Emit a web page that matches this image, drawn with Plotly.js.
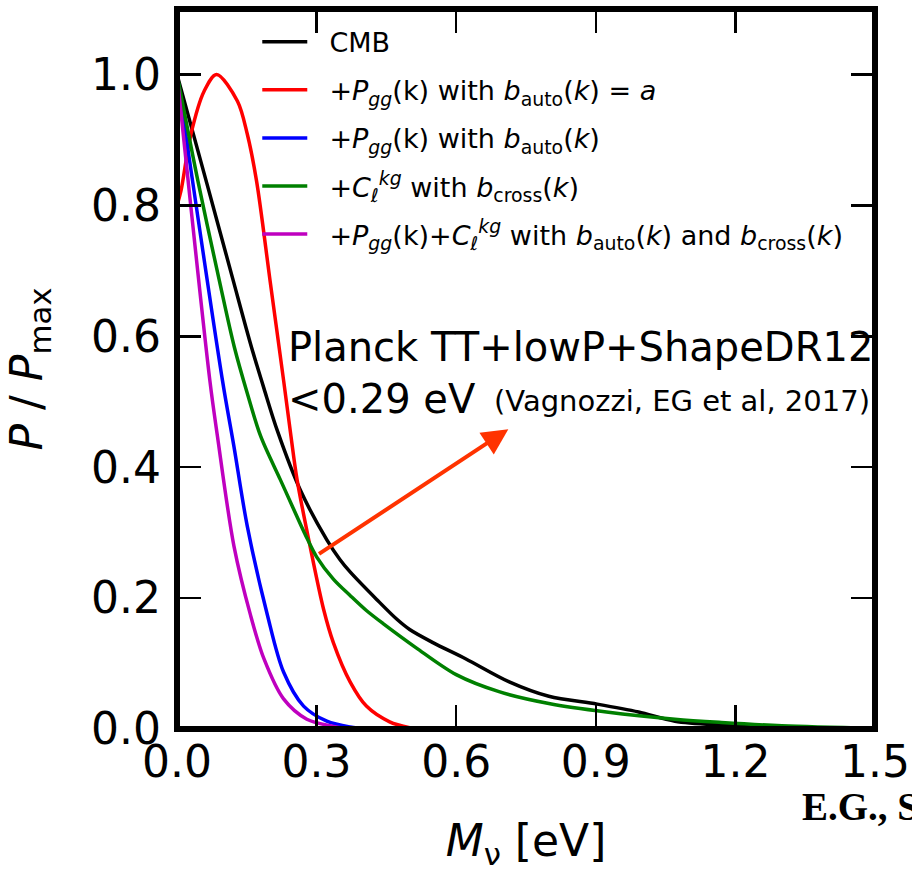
<!DOCTYPE html>
<html>
<head>
<meta charset="utf-8">
<script src="https://cdn.plot.ly/plotly-3.0.1.min.js"></script>
<style>html,body{margin:0;padding:0;background:#fff;}#chart{width:912px;height:872px;}</style>
</head>
<body>
<div id="chart"></div>
<script>
// ---- data ----
const seriesNames = [
  "CMB",
  "+<i>P</i><sub><i>gg</i></sub>(k) with <i>b</i><sub>auto</sub>(<i>k</i>) = <i>a</i>",
  "+<i>P</i><sub><i>gg</i></sub>(k) with <i>b</i><sub>auto</sub>(<i>k</i>)",
  "+<i>C</i><sub><i>ℓ</i></sub><sup><i>kg</i></sup> with <i>b</i><sub>cross</sub>(<i>k</i>)",
  "+<i>P</i><sub><i>gg</i></sub>(k)+<i>C</i><sub><i>ℓ</i></sub><sup><i>kg</i></sup> with <i>b</i><sub>auto</sub>(<i>k</i>) and <i>b</i><sub>cross</sub>(<i>k</i>)"
];
const seriesColors = ["#000000", "#ff0000", "#0000ff", "#008000", "#bf00bf"];

const cmbMnu = [0, 0.064, 0.119, 0.159, 0.187, 0.216, 0.265, 0.322, 0.350, 0.372, 0.429, 0.472, 0.50, 0.55, 0.621, 0.714, 0.799, 0.903, 0.992, 1.07, 1.17, 1.30, 1.50];
const cmbP   = [1.0, 0.834, 0.690, 0.586, 0.520, 0.455, 0.365, 0.289, 0.259, 0.240, 0.198, 0.168, 0.152, 0.132, 0.107, 0.072, 0.050, 0.038, 0.026, 0.012, 0.006, 0.002, 0.0];

const pggAMnu = [0, 0.0085, 0.03, 0.058, 0.085, 0.13, 0.151, 0.171, 0.200, 0.229, 0.245, 0.258, 0.286, 0.315, 0.336, 0.372, 0.407, 0.457, 0.50, 0.52];
const pggAP   = [0.8, 0.822, 0.909, 0.974, 1.0, 0.959, 0.909, 0.837, 0.685, 0.533, 0.447, 0.381, 0.279, 0.183, 0.132, 0.072, 0.035, 0.011, 0.002, 0.0];

const pggMnu = [0, 0.0976, 0.1225, 0.151, 0.194, 0.229, 0.272, 0.322, 0.372, 0.41];
const pggP   = [1.0, 0.533, 0.431, 0.310, 0.175, 0.087, 0.035, 0.012, 0.003, 0.0];

const clMnu = [0, 0.045, 0.091, 0.123, 0.151, 0.180, 0.222, 0.250, 0.275, 0.300, 0.336, 0.372, 0.407, 0.443, 0.514, 0.600, 0.692, 0.799, 0.923, 1.07, 1.17, 1.30, 1.50];
const clP   = [1.0, 0.837, 0.685, 0.584, 0.513, 0.447, 0.381, 0.337, 0.298, 0.263, 0.229, 0.204, 0.181, 0.161, 0.124, 0.083, 0.057, 0.039, 0.026, 0.015, 0.010, 0.005, 0.001];

const bothMnu = [0, 0.0705, 0.087, 0.1225, 0.158, 0.187, 0.229, 0.279, 0.336, 0.37];
const bothP   = [1.0, 0.533, 0.447, 0.279, 0.174, 0.107, 0.046, 0.015, 0.004, 0.0];

const xTicks = [0, 0.3, 0.6, 0.9, 1.2, 1.5];
const yTicks = [0, 0.2, 0.4, 0.6, 0.8, 1.0];

// ---- traces ----
const xs = [cmbMnu, pggAMnu, pggMnu, clMnu, bothMnu];
const ys = [cmbP, pggAP, pggP, clP, bothP];
const traces = xs.map((x, i) => ({
  x: x, y: ys[i], type: "scatter", mode: "lines",
  name: "&nbsp;&nbsp;" + seriesNames[i], legendgroup: "g" + i,
  line: {color: seriesColors[i], width: 3.5, shape: "spline", smoothing: 0.9},
  hoverinfo: "skip"
}));

const tickFont = {family: "DejaVu Sans", size: 44, color: "#000"};
const layout = {
  width: 912, height: 872,
  margin: {l: 177, r: 37, t: 9, b: 143},
  paper_bgcolor: "#fff", plot_bgcolor: "#fff",
  showlegend: true,
  legend: {
    x: 0.115, y: 0.988, xanchor: "left", yanchor: "top",
    bgcolor: "rgba(0,0,0,0)", borderwidth: 0,
    font: {family: "DejaVu Sans", size: 27, color: "#000"},
    traceorder: "grouped", tracegroupgap: 10, itemwidth: 45
  },
  xaxis: {
    range: [0, 1.5], tickvals: xTicks, tickformat: ".1f",
    ticks: "inside", ticklen: 24, tickwidth: 2.5, tickcolor: "#000",
    mirror: "ticks", showline: false, showgrid: false, zeroline: false,
    tickfont: tickFont, ticklabelstandoff: 3,
    title: {text: "<i>M</i><sub>ν</sub> [eV]", font: {family: "DejaVu Sans", size: 44, color: "#000"}, standoff: 42}
  },
  yaxis: {
    range: [0, 1.1], tickvals: yTicks, tickformat: ".1f",
    ticks: "inside", ticklen: 24, tickwidth: 2.5, tickcolor: "#000",
    mirror: "ticks", showline: false, showgrid: false, zeroline: false,
    tickfont: tickFont, ticklabelstandoff: 15,
    title: {text: "<i>P</i> / <i>P</i><sub>max</sub>", font: {family: "DejaVu Sans", size: 44, color: "#000"}, standoff: 34}
  },
  shapes: [{
    type: "rect", xref: "paper", yref: "paper", x0: 0, x1: 1, y0: 0, y1: 1,
    line: {color: "#000", width: 6}, layer: "above"
  }],
  annotations: [
    {xref: "paper", yref: "paper", x: 0.156, y: 0.531, xanchor: "left", yanchor: "middle",
     text: "Planck TT+lowP+ShapeDR12", showarrow: false,
     font: {family: "DejaVu Sans", size: 40, color: "#000"}},
    {xref: "paper", yref: "paper", x: 0.156, y: 0.459, xanchor: "left", yanchor: "middle",
     text: "&lt;0.29 eV", showarrow: false,
     font: {family: "DejaVu Sans", size: 40, color: "#000"}},
    {xref: "paper", yref: "paper", x: 0.4516, y: 0.455, xanchor: "left", yanchor: "middle",
     text: "(Vagnozzi, EG et al, 2017)", showarrow: false,
     font: {family: "DejaVu Sans", size: 29, color: "#000"}},
    {x: 0.712, y: 0.458, ax: 0.302, ay: 0.266, xref: "x", yref: "y", axref: "x", ayref: "y",
     text: "", showarrow: true, arrowhead: 2, arrowsize: 1.3, arrowwidth: 4, arrowcolor: "#ff3300"},
    {xref: "paper", yref: "paper", x: 0.893, y: -0.108, xanchor: "left", yanchor: "middle",
     text: "<b>E.G., S</b>", showarrow: false,
     font: {family: "Liberation Serif", size: 39, color: "#000"}}
  ]
};

Plotly.newPlot("chart", traces, layout, {displayModeBar: false, staticPlot: true});
</script>
</body>
</html>
